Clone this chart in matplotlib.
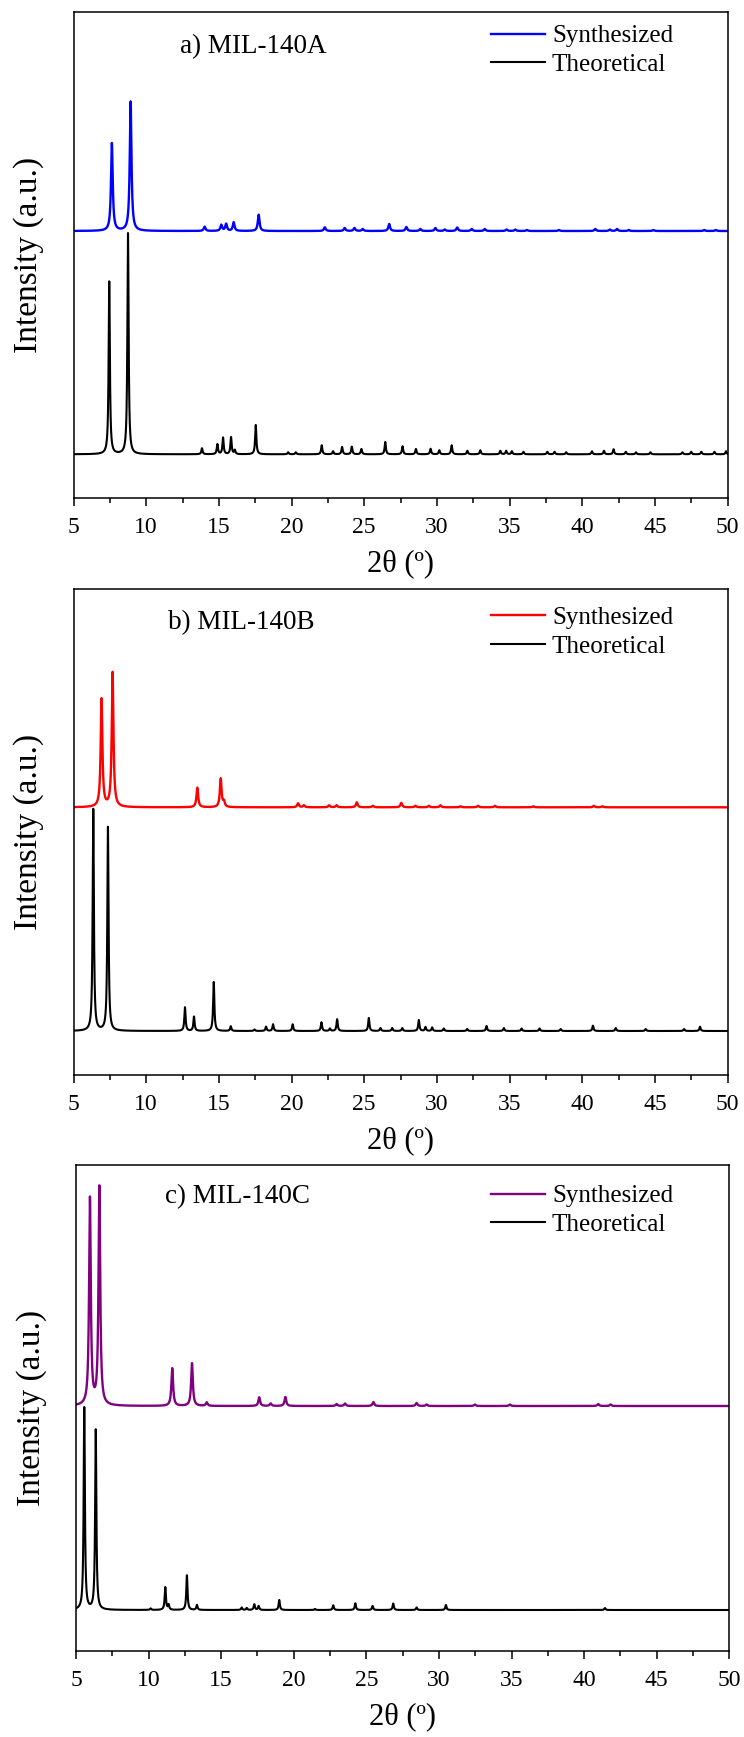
import numpy as np
import matplotlib.pyplot as plt
from matplotlib.ticker import MultipleLocator

plt.rcParams['font.family'] = ['Liberation Serif', 'DejaVu Serif']

# Peak lists: 2theta (deg) and height (a.u.)
# a) MIL-140A
theo_a_pos = [7.46, 8.75, 13.84, 14.90, 15.29, 15.84, 16.10, 17.54, 19.77, 20.30,
              22.08, 22.86, 23.48, 24.15, 24.81, 26.45, 27.64, 28.56, 29.57, 30.17,
              31.02, 32.10, 32.99, 34.37, 34.77, 35.16, 35.96, 37.60, 38.10, 38.90,
              40.67, 41.50, 42.16, 43.00, 43.70, 44.70, 46.90, 47.50, 48.20, 49.10, 49.90]
theo_a_int = [172.6, 221.0, 6.0, 10.0, 16.6, 17.0, 4.0, 29.3, 2.0, 2.0,
              9.0, 3.0, 7.3, 7.6, 5.3, 12.3, 8.0, 5.3, 5.5, 4.0,
              9.0, 3.5, 4.0, 3.5, 3.5, 3.0, 2.5, 2.5, 2.5, 2.0,
              3.0, 3.5, 5.0, 2.5, 2.0, 2.0, 2.0, 2.5, 2.5, 2.5, 3.0]
syn_a_pos = [7.64, 8.93, 14.02, 15.17, 15.50, 16.02, 17.74, 22.29, 23.66, 24.33,
             24.90, 26.72, 27.90, 28.86, 29.90, 30.55, 31.40, 32.40, 33.30, 34.80,
             35.40, 36.20, 38.40, 40.90, 41.90, 42.40, 43.20, 44.90, 48.40, 49.20]
syn_a_int = [87.7, 129.3, 4.3, 6.0, 7.0, 8.7, 16.3, 3.7, 3.0, 3.0,
             2.0, 7.0, 4.0, 2.0, 3.0, 1.5, 3.5, 2.0, 2.0, 1.5,
             1.5, 1.0, 1.0, 2.0, 1.5, 2.0, 1.0, 1.0, 1.0, 1.0]

# b) MIL-140B
theo_b_pos = [6.36, 7.37, 12.67, 13.29, 14.65, 15.82, 17.45, 18.25, 18.73, 20.08,
              22.06, 22.64, 23.14, 25.32, 26.12, 26.93, 27.62, 28.76, 29.22, 29.68,
              30.48, 32.09, 33.42, 34.61, 35.83, 37.07, 38.52, 40.74, 42.31, 44.37,
              47.01, 48.11]
theo_b_int = [221.7, 203.7, 23.7, 14.3, 49.0, 4.7, 1.5, 4.3, 6.7, 6.7,
              8.7, 2.5, 11.7, 13.0, 3.0, 3.0, 3.0, 11.0, 4.0, 3.5,
              2.5, 2.0, 5.0, 3.0, 2.5, 2.5, 2.0, 5.3, 3.0, 2.0,
              2.0, 4.3]
syn_b_pos = [6.93, 7.69, 13.52, 15.13, 15.35, 20.45, 20.85, 22.59, 23.10, 24.49,
             25.60, 27.55, 28.53, 29.45, 30.25, 31.63, 32.83, 34.00, 36.64, 40.81, 41.40]
syn_b_int = [108.0, 134.6, 19.6, 28.6, 5.0, 4.0, 2.0, 2.0, 2.0, 5.0,
             1.5, 4.5, 1.5, 1.5, 2.0, 1.0, 1.5, 1.5, 1.0, 1.5, 1.0]

# c) MIL-140C
theo_c_pos = [5.57, 6.36, 10.14, 11.15, 11.38, 12.64, 13.33, 16.41, 16.76, 17.28,
              17.58, 19.00, 21.46, 22.72, 24.24, 25.43, 26.85, 28.46, 30.48, 41.43]
theo_c_int = [202.3, 180.0, 1.5, 22.7, 5.0, 34.7, 5.0, 2.5, 2.0, 5.7,
              4.0, 10.0, 1.0, 4.7, 6.7, 4.0, 6.5, 2.5, 5.0, 2.0]
syn_c_pos = [5.96, 6.61, 11.63, 12.99, 14.00, 17.62, 18.41, 19.42, 22.95, 23.53,
             25.48, 28.46, 29.15, 32.48, 34.89, 40.97, 41.82]
syn_c_int = [207.0, 218.3, 37.7, 42.7, 3.5, 8.7, 2.5, 9.0, 2.0, 2.5,
             4.0, 3.0, 1.5, 1.5, 1.5, 2.0, 1.5]

panels = [
    ('a) MIL-140A', 'blue', theo_a_pos, theo_a_int, syn_a_pos, syn_a_int),
    ('b) MIL-140B', 'red', theo_b_pos, theo_b_int, syn_b_pos, syn_b_int),
    ('c) MIL-140C', '#800080', theo_c_pos, theo_c_int, syn_c_pos, syn_c_int),
]

# layout (figure pixels at 100 dpi)
W, H = 744, 1737
boxes = [(73.5, 12.3, 727.5, 498), (73.5, 589, 727.5, 1075), (76, 1165, 729.3, 1651)]
offsets = [(43.7, 267.0), (44.0, 267.7), (41.0, 245.0)]   # theo / syn baselines
title_xy = [(0.163, 0.930), (0.1445, 0.930), (0.136, 0.935)]
legend_y = [0.974, 0.964, 0.959]


def profile(x, pos, inten, fwhm):
    y = np.zeros_like(x)
    g = fwhm / 2.0
    for p, h in zip(pos, inten):
        y += h * g ** 2 / ((x - p) ** 2 + g ** 2)
    return y


x = np.linspace(5, 50, 9001)

fig = plt.figure(figsize=(W / 100, H / 100), dpi=100)
for i, (title, col, tp, ti, sp, si) in enumerate(panels):
    l, t, r, b = boxes[i]
    ax = fig.add_axes([l / W, 1 - b / H, (r - l) / W, (b - t) / H])
    theo = profile(x, tp, ti, 0.10) + offsets[i][0]
    syn = profile(x, sp, si, 0.14) + offsets[i][1]
    h1, = ax.plot(x, syn, color=col, lw=1.7, label='Synthesized')
    h2, = ax.plot(x, theo, color='black', lw=1.5, label='Theoretical')

    ax.set_xlim(5, 50)
    ax.set_ylim(0, b - t)
    ax.xaxis.set_major_locator(MultipleLocator(5))
    ax.xaxis.set_minor_locator(MultipleLocator(2.5))
    ax.tick_params(axis='x', which='major', direction='out', length=6, width=1.1,
                   labelsize=17, pad=8)
    ax.tick_params(axis='x', which='minor', direction='out', length=3.5, width=1.1)
    ax.set_yticks([])
    for s in ax.spines.values():
        s.set_linewidth(1.1)

    ax.set_xlabel('2θ (º)', fontsize=22, labelpad=8)
    ax.set_ylabel('Intensity (a.u.)', fontsize=24, labelpad=21)
    ax.text(title_xy[i][0], title_xy[i][1], title, transform=ax.transAxes,
            fontsize=19.5, va='center', ha='left')
    ax.legend(handles=[h1, h2], loc='upper left',
              bbox_to_anchor=((491 - l) / (r - l), legend_y[i]),
              frameon=False, fontsize=18, handlelength=2.16, handletextpad=0.28,
              labelspacing=0.25, borderpad=0, borderaxespad=0)

fig.savefig('out.png', dpi=100)
